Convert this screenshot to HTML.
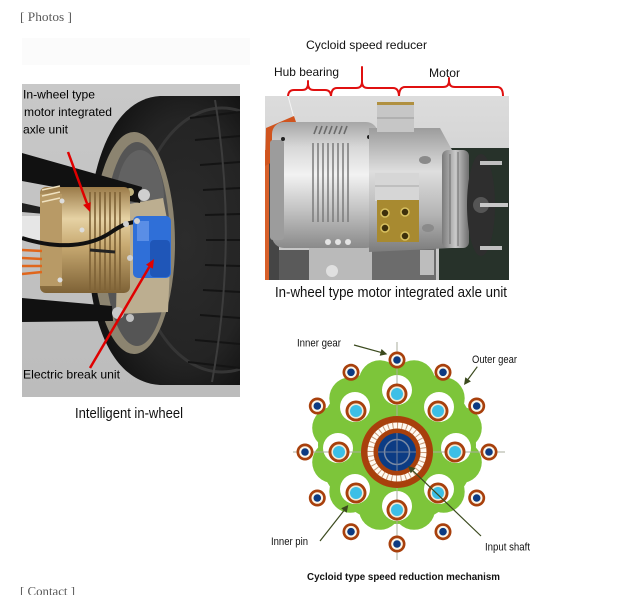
<!DOCTYPE html>
<html>
<head>
<meta charset="utf-8">
<style>
  html, body { margin:0; padding:0; background:#ffffff; }
  body { width:640px; height:595px; overflow:hidden; position:relative; }
  svg { position:absolute; left:0; top:0; }
  .sans { font-family:"Liberation Sans", Arial, sans-serif; }
  .serif { font-family:"Liberation Serif", "Times New Roman", serif; }
</style>
</head>
<body>
<svg width="640" height="595" viewBox="0 0 640 595" xmlns="http://www.w3.org/2000/svg">
  <defs>
    <clipPath id="cl"><rect x="22" y="84" width="218" height="313"/></clipPath>
    <clipPath id="cr"><rect x="265" y="96" width="244" height="184"/></clipPath>
    <linearGradient id="gold" x1="0" y1="0" x2="0" y2="1">
      <stop offset="0" stop-color="#9a7a48"/>
      <stop offset="0.3" stop-color="#e6d2a4"/>
      <stop offset="0.55" stop-color="#c8aa72"/>
      <stop offset="1" stop-color="#7e6236"/>
    </linearGradient>
    <linearGradient id="silver" x1="0" y1="0" x2="0" y2="1">
      <stop offset="0" stop-color="#a6a6a6"/>
      <stop offset="0.2" stop-color="#d8d8d8"/>
      <stop offset="0.42" stop-color="#f2f2f2"/>
      <stop offset="0.7" stop-color="#c2c2c2"/>
      <stop offset="1" stop-color="#8a8a8a"/>
    </linearGradient>
    <linearGradient id="silver2" x1="0" y1="0" x2="0" y2="1">
      <stop offset="0" stop-color="#9c9c9c"/>
      <stop offset="0.35" stop-color="#dedede"/>
      <stop offset="0.7" stop-color="#b4b4b4"/>
      <stop offset="1" stop-color="#7c7c7c"/>
    </linearGradient>
    <linearGradient id="discg" x1="0" y1="0" x2="1" y2="0">
      <stop offset="0" stop-color="#7a7a7a"/>
      <stop offset="0.5" stop-color="#cacaca"/>
      <stop offset="1" stop-color="#6e6e6e"/>
    </linearGradient>
    <linearGradient id="bgR" x1="0" y1="0" x2="0" y2="1">
      <stop offset="0" stop-color="#dcdcdc"/>
      <stop offset="1" stop-color="#c4c4c4"/>
    </linearGradient>
    <linearGradient id="bgL" x1="0" y1="0" x2="0" y2="1">
      <stop offset="0" stop-color="#c8c8c8"/>
      <stop offset="1" stop-color="#bcbcbc"/>
    </linearGradient>
    <radialGradient id="tireg" cx="0.62" cy="0.5" r="0.6">
      <stop offset="0" stop-color="#2c2c2c"/>
      <stop offset="0.7" stop-color="#242424"/>
      <stop offset="1" stop-color="#141414"/>
    </radialGradient>
  </defs>

  <!-- header -->
  <text x="20" y="21" class="serif" font-size="13" fill="#5a5a5a" textLength="52" lengthAdjust="spacingAndGlyphs">[ Photos ]</text>
  <rect x="22" y="38" width="228" height="27" fill="#fbfbfb"/>

  <!-- ================= LEFT PHOTO ================= -->
  <g clip-path="url(#cl)">
    <rect x="22" y="84" width="218" height="313" fill="url(#bgL)"/>
    <!-- tire -->
    <path d="M245,96 L160,96 C110,99 88,170 88,244 C88,318 110,382 160,385 L245,385 Z" fill="url(#tireg)"/>
    <ellipse cx="222" cy="240" rx="86" ry="132" fill="none" stroke="#353535" stroke-width="3"/>
    <!-- tread grooves -->
    <g stroke="#141414" stroke-width="2" fill="none">
      <path d="M190,118 L240,112"/>
      <path d="M195,140 L240,136"/>
      <path d="M200,165 L240,162"/>
      <path d="M203,190 L240,188"/>
      <path d="M205,215 L240,214"/>
      <path d="M206,240 L240,240"/>
      <path d="M205,265 L240,266"/>
      <path d="M203,290 L240,292"/>
      <path d="M200,315 L240,318"/>
      <path d="M195,340 L240,344"/>
      <path d="M188,362 L240,368"/>
    </g>
    <path d="M215,100 Q238,240 212,382" stroke="#3c3c3c" stroke-width="2" fill="none"/>
    <!-- rim -->
    <ellipse cx="134" cy="243" rx="41" ry="111" fill="#8c8470"/>
    <ellipse cx="137" cy="244" rx="33" ry="102" fill="#555555"/>
    <ellipse cx="140" cy="200" rx="24" ry="50" fill="#626262"/>
    <!-- backplate -->
    <path d="M118,206 L163,198 L171,240 L168,312 L116,314 Z" fill="#bcae90"/>
    <!-- upper arm -->
    <path d="M22,153 L142,187 L140,203 L22,181 Z" fill="#111111"/>
    <circle cx="144" cy="195" r="6" fill="#cfcfcf"/>
    <circle cx="130" cy="192" r="4" fill="#bfb27e"/>
    <path d="M22,203 L45,208 L45,214 L22,212 Z" fill="#202020"/>
    <!-- gold motor -->
    <rect x="40" y="187" width="90" height="106" rx="6" fill="url(#gold)"/>
    <rect x="40" y="194" width="22" height="92" fill="#b89a66"/>
    <g stroke="#f0e2c0" stroke-width="1.5">
      <line x1="42" y1="190" x2="60" y2="186"/>
      <line x1="42" y1="196" x2="60" y2="192"/>
      <line x1="42" y1="202" x2="60" y2="198"/>
    </g>
    <g stroke="#7e6236" stroke-width="1.6">
      <line x1="90" y1="192" x2="90" y2="290"/>
      <line x1="95" y1="192" x2="95" y2="290"/>
      <line x1="100" y1="192" x2="100" y2="290"/>
      <line x1="105" y1="192" x2="105" y2="290"/>
      <line x1="110" y1="192" x2="110" y2="290"/>
      <line x1="115" y1="192" x2="115" y2="290"/>
      <line x1="120" y1="192" x2="120" y2="290"/>
    </g>
    <circle cx="62" cy="201" r="2.5" fill="#dddddd"/>
    <circle cx="60" cy="280" r="2.5" fill="#dddddd"/>
    <circle cx="82" cy="230" r="2.5" fill="#dddddd"/>
    <!-- white block + orange cables -->
    <rect x="22" y="216" width="18" height="24" fill="#e6e6e6"/>
    <g stroke="#e0661c" stroke-width="2.5">
      <line x1="22" y1="250" x2="42" y2="251"/>
      <line x1="22" y1="258" x2="42" y2="259"/>
      <line x1="22" y1="266" x2="42" y2="266"/>
      <line x1="22" y1="274" x2="42" y2="272"/>
    </g>
    <!-- cable -->
    <path d="M22,238 C60,250 90,246 110,233 C120,226 128,222 137,222" stroke="#111" stroke-width="4" fill="none"/>
    <path d="M90,250 L115,252" stroke="#222" stroke-width="3"/>
    <!-- blue brake -->
    <rect x="133" y="216" width="38" height="62" rx="5" fill="#2f6fd8"/>
    <rect x="150" y="240" width="20" height="37" rx="4" fill="#1f56b8"/>
    <rect x="137" y="221" width="12" height="20" fill="#5a8ee6"/>
    <circle cx="137" cy="221" r="3" fill="#d0d0d0"/>
    <circle cx="126" cy="224" r="3" fill="#cfcfcf"/>
    <circle cx="130" cy="258" r="3" fill="#cfcfcf"/>
    <!-- lower arm -->
    <path d="M22,298 L112,306 L113,321 L22,322 Z" fill="#111111"/>
    <circle cx="118" cy="313" r="6" fill="#c8c8c8"/>
    <circle cx="130" cy="318" r="4" fill="#bfbfbf"/>
    <!-- red arrows -->
    <line x1="68" y1="152" x2="87" y2="203.5" stroke="#e00000" stroke-width="2.5"/>
    <polygon points="90,212 83.1,204.9 90.7,202.1" fill="#e00000"/>
    <line x1="90" y1="368" x2="149.4" y2="266.8" stroke="#e00000" stroke-width="2.5"/>
    <polygon points="154,259 152.9,268.8 146,264.8" fill="#e00000"/>
    <!-- labels -->
    <g class="sans" font-size="12" fill="#000">
      <text x="23" y="98.5" textLength="72" lengthAdjust="spacingAndGlyphs">In-wheel type</text>
      <text x="24" y="116" textLength="88" lengthAdjust="spacingAndGlyphs">motor integrated</text>
      <text x="23" y="133.5" textLength="45" lengthAdjust="spacingAndGlyphs">axle unit</text>
      <text x="23" y="378.5" textLength="97" lengthAdjust="spacingAndGlyphs">Electric break unit</text>
    </g>
  </g>
  <text x="75" y="418" class="sans" font-size="15" fill="#111" textLength="108" lengthAdjust="spacingAndGlyphs">Intelligent in-wheel</text>

  <!-- ================= RIGHT PHOTO ================= -->
  <g class="sans" font-size="12" fill="#111">
    <text x="306" y="49" textLength="121" lengthAdjust="spacingAndGlyphs">Cycloid speed reducer</text>
    <text x="274" y="76" textLength="65" lengthAdjust="spacingAndGlyphs">Hub bearing</text>
    <text x="429" y="77" textLength="31" lengthAdjust="spacingAndGlyphs">Motor</text>
  </g>
  <!-- braces -->
  <g stroke="#e01010" stroke-width="2" fill="none" stroke-linejoin="round" stroke-linecap="round">
    <path d="M288,97 Q288,90 294,90 L302,90 Q308,90 308,84 L308,81 M308,84 Q308,90 314,90 L325,90 Q331,90 331,97"/>
    <path d="M331,97 Q331,88 337,88 L356,88 Q362,88 362,82 L362,67 M362,82 Q362,88 368,88 L393,88 Q399,88 399,97"/>
    <path d="M399,97 Q399,87 405,87 L443,87 Q449,87 449,81 L449,78 M449,81 Q449,87 455,87 L497,87 Q503,87 503,96"/>
  </g>

  <g clip-path="url(#cr)">
    <rect x="265" y="96" width="244" height="184" fill="url(#bgR)"/>
    <line x1="288" y1="96" x2="294" y2="118" stroke="#f4f4f4" stroke-width="1"/>
    <!-- dark board -->
    <rect x="439" y="148" width="70" height="132" fill="#27322a"/>
    <!-- left strips -->
    <rect x="265" y="150" width="14" height="130" fill="#454545"/>
    <rect x="265" y="150" width="4" height="130" fill="#d8602a"/>
    <path d="M266,128 L294,116 L298,128 L276,160 L265,166 Z" fill="#d0541e"/>
    <!-- bottom pieces -->
    <rect x="279" y="250" width="32" height="30" fill="#5a5a5a"/>
    <rect x="309" y="245" width="63" height="35" fill="#bababa"/>
    <circle cx="332" cy="271" r="6" fill="#e0e0e0"/>
    <rect x="372" y="243" width="64" height="37" fill="#6c6c6c"/>
    <rect x="420" y="250" width="14" height="25" fill="#bdbdbd"/>
    <!-- left cylinder -->
    <rect x="272" y="122" width="106" height="126" rx="12" fill="url(#silver)"/>
    <rect x="270" y="140" width="14" height="100" rx="3" fill="#9c9c9c"/>
    <g stroke="#7a7a7a" stroke-width="1.5">
      <line x1="313" y1="143" x2="313" y2="222"/>
      <line x1="318" y1="143" x2="318" y2="222"/>
      <line x1="323" y1="143" x2="323" y2="222"/>
      <line x1="328" y1="143" x2="328" y2="222"/>
      <line x1="333" y1="143" x2="333" y2="222"/>
      <line x1="338" y1="143" x2="338" y2="222"/>
      <line x1="343" y1="143" x2="343" y2="222"/>
      <line x1="348" y1="143" x2="348" y2="222"/>
    </g>
    <g stroke="#6a6a6a" stroke-width="1.6">
      <line x1="314" y1="134" x2="317" y2="126"/>
      <line x1="319" y1="134" x2="322" y2="126"/>
      <line x1="324" y1="134" x2="327" y2="126"/>
      <line x1="329" y1="134" x2="332" y2="126"/>
      <line x1="334" y1="134" x2="337" y2="126"/>
      <line x1="339" y1="134" x2="342" y2="126"/>
      <line x1="344" y1="134" x2="347" y2="126"/>
    </g>
    <circle cx="283" cy="139" r="2" fill="#222"/>
    <circle cx="369" cy="137" r="2" fill="#222"/>
    <g fill="#e4e4e4">
      <circle cx="328" cy="242" r="3"/><circle cx="338" cy="242" r="3"/><circle cx="348" cy="242" r="3"/>
    </g>
    <!-- middle body -->
    <path d="M369,128 L440,128 L452,150 L452,248 L369,252 Z" fill="url(#silver2)"/>
    <ellipse cx="425" cy="160" rx="6" ry="4" fill="#8a8a8a"/>
    <ellipse cx="428" cy="228" rx="6" ry="4" fill="#8a8a8a"/>
    <!-- top block -->
    <rect x="377" y="102" width="37" height="30" fill="#c6c6c6"/>
    <rect x="377" y="102" width="37" height="3" fill="#b09040"/>
    <line x1="377" y1="118" x2="414" y2="118" stroke="#9a9a9a"/>
    <!-- lower block -->
    <rect x="375" y="173" width="44" height="28" fill="#d6d6d6"/>
    <line x1="375" y1="186" x2="419" y2="186" stroke="#a8a8a8"/>
    <!-- brass -->
    <rect x="377" y="200" width="42" height="42" fill="#a88a30"/>
    <g fill="#3e300c" stroke="#d8c060" stroke-width="1.5">
      <circle cx="385" cy="213" r="4"/>
      <circle cx="405" cy="212" r="4"/>
      <circle cx="385" cy="228" r="4"/>
      <circle cx="405" cy="236" r="4"/>
    </g>
    <!-- right disc -->
    <rect x="442" y="150" width="27" height="98" rx="6" fill="url(#discg)"/>
    <g stroke="#6a6a6a" stroke-width="1">
      <line x1="450" y1="154" x2="450" y2="244"/>
      <line x1="458" y1="152" x2="458" y2="246"/>
    </g>
    <!-- hub star -->
    <ellipse cx="481" cy="205" rx="14" ry="51" fill="#2e2e2e"/>
    <circle cx="481" cy="205" r="8" fill="#555"/>
    <rect x="480" y="161" width="22" height="4" fill="#c0c0c0"/>
    <rect x="480" y="203" width="28" height="4" fill="#c8c8c8"/>
    <rect x="480" y="246" width="22" height="4" fill="#c0c0c0"/>
  </g>
  <text x="275" y="297" class="sans" font-size="14.5" fill="#111" textLength="232" lengthAdjust="spacingAndGlyphs">In-wheel type motor integrated axle unit</text>

  <!-- ================= CYCLOID ================= -->
  <g fill="#7dc53a">
    <circle cx="397" cy="445" r="79"/>
    <circle cx="414.1" cy="381.3" r="21"/>
    <circle cx="443.7" cy="398.3" r="21"/>
    <circle cx="460.8" cy="427.9" r="21"/>
    <circle cx="460.8" cy="462.1" r="21"/>
    <circle cx="443.7" cy="491.7" r="21"/>
    <circle cx="414.1" cy="508.8" r="21"/>
    <circle cx="379.9" cy="508.8" r="21"/>
    <circle cx="350.3" cy="491.7" r="21"/>
    <circle cx="333.2" cy="462.1" r="21"/>
    <circle cx="333.2" cy="427.9" r="21"/>
    <circle cx="350.3" cy="398.3" r="21"/>
    <circle cx="379.9" cy="381.3" r="21"/>
  </g>
  <g fill="#ffffff">
    <circle cx="397" cy="390" r="15"/>
    <circle cx="439" cy="407" r="15"/>
    <circle cx="456" cy="448" r="15"/>
    <circle cx="439" cy="489" r="15"/>
    <circle cx="397" cy="506" r="15"/>
    <circle cx="355" cy="489" r="15"/>
    <circle cx="338" cy="448" r="15"/>
    <circle cx="355" cy="407" r="15"/>
  </g>
  <g stroke="#a9ad9c" stroke-width="1">
    <line x1="293" y1="452" x2="505" y2="452"/>
    <line x1="397" y1="342" x2="397" y2="560"/>
  </g>
  <g>
    <g fill="#a8400c">
      <circle cx="397" cy="394" r="10.5"/><circle cx="438" cy="411" r="10.5"/>
      <circle cx="455" cy="452" r="10.5"/><circle cx="438" cy="493" r="10.5"/>
      <circle cx="397" cy="510" r="10.5"/><circle cx="356" cy="493" r="10.5"/>
      <circle cx="339" cy="452" r="10.5"/><circle cx="356" cy="411" r="10.5"/>
    </g>
    <g fill="#f2ead6">
      <circle cx="397" cy="394" r="7.6"/><circle cx="438" cy="411" r="7.6"/>
      <circle cx="455" cy="452" r="7.6"/><circle cx="438" cy="493" r="7.6"/>
      <circle cx="397" cy="510" r="7.6"/><circle cx="356" cy="493" r="7.6"/>
      <circle cx="339" cy="452" r="7.6"/><circle cx="356" cy="411" r="7.6"/>
    </g>
    <g fill="#3cbfe6">
      <circle cx="397" cy="394" r="6"/><circle cx="438" cy="411" r="6"/>
      <circle cx="455" cy="452" r="6"/><circle cx="438" cy="493" r="6"/>
      <circle cx="397" cy="510" r="6"/><circle cx="356" cy="493" r="6"/>
      <circle cx="339" cy="452" r="6"/><circle cx="356" cy="411" r="6"/>
    </g>
  </g>
  <g>
    <g fill="#a8400c">
      <circle cx="397" cy="360" r="8.5"/><circle cx="443" cy="372.3" r="8.5"/>
      <circle cx="476.7" cy="406" r="8.5"/><circle cx="489" cy="452" r="8.5"/>
      <circle cx="476.7" cy="498" r="8.5"/><circle cx="443" cy="531.7" r="8.5"/>
      <circle cx="397" cy="544" r="8.5"/><circle cx="351" cy="531.7" r="8.5"/>
      <circle cx="317.3" cy="498" r="8.5"/><circle cx="305" cy="452" r="8.5"/>
      <circle cx="317.3" cy="406" r="8.5"/><circle cx="351" cy="372.3" r="8.5"/>
    </g>
    <g fill="#fbf6ea">
      <circle cx="397" cy="360" r="5.8"/><circle cx="443" cy="372.3" r="5.8"/>
      <circle cx="476.7" cy="406" r="5.8"/><circle cx="489" cy="452" r="5.8"/>
      <circle cx="476.7" cy="498" r="5.8"/><circle cx="443" cy="531.7" r="5.8"/>
      <circle cx="397" cy="544" r="5.8"/><circle cx="351" cy="531.7" r="5.8"/>
      <circle cx="317.3" cy="498" r="5.8"/><circle cx="305" cy="452" r="5.8"/>
      <circle cx="317.3" cy="406" r="5.8"/><circle cx="351" cy="372.3" r="5.8"/>
    </g>
    <g fill="#0c3a82">
      <circle cx="397" cy="360" r="3.8"/><circle cx="443" cy="372.3" r="3.8"/>
      <circle cx="476.7" cy="406" r="3.8"/><circle cx="489" cy="452" r="3.8"/>
      <circle cx="476.7" cy="498" r="3.8"/><circle cx="443" cy="531.7" r="3.8"/>
      <circle cx="397" cy="544" r="3.8"/><circle cx="351" cy="531.7" r="3.8"/>
      <circle cx="317.3" cy="498" r="3.8"/><circle cx="305" cy="452" r="3.8"/>
      <circle cx="317.3" cy="406" r="3.8"/><circle cx="351" cy="372.3" r="3.8"/>
    </g>
  </g>
  <circle cx="397" cy="452" r="36" fill="#a8400c"/>
  <circle cx="397" cy="452" r="29.5" fill="#fffaf2"/>
  <circle cx="397" cy="452" r="26.5" fill="none" stroke="#c89a78" stroke-width="6" stroke-dasharray="1 3.62"/>
  <circle cx="397" cy="452" r="23.5" fill="#a8400c"/>
  <circle cx="397" cy="452" r="19" fill="#0c3c84"/>
  <circle cx="397" cy="452" r="12.5" fill="none" stroke="#7a8aa4" stroke-width="1.5"/>
  <g stroke="#6f7f9a" stroke-width="1">
    <line x1="378" y1="452" x2="416" y2="452"/>
    <line x1="397" y1="433" x2="397" y2="471"/>
  </g>

  <g stroke="#3b4a1e" stroke-width="1.2">
    <line x1="354" y1="345" x2="381" y2="352.4"/>
    <line x1="477.3" y1="366.7" x2="468" y2="379.4"/>
    <line x1="320" y1="541" x2="344" y2="510.5"/>
    <line x1="481" y1="536" x2="413" y2="470.8"/>
  </g>
  <g fill="#3b4a1e">
    <polygon points="387.3,354.3 379.7,355.8 381.5,349"/>
    <polygon points="464,385 465.3,377.2 470.9,381.4"/>
    <polygon points="348.3,505 346.7,512.7 341.2,508.3"/>
    <polygon points="408,466 415.5,468.3 410.7,473.3"/>
  </g>

  <g class="sans" font-size="11" fill="#111">
    <text x="297" y="346.5" textLength="44" lengthAdjust="spacingAndGlyphs">Inner gear</text>
    <text x="472" y="363" textLength="45" lengthAdjust="spacingAndGlyphs">Outer gear</text>
    <text x="271" y="545" textLength="37" lengthAdjust="spacingAndGlyphs">Inner pin</text>
    <text x="485" y="550.5" textLength="45" lengthAdjust="spacingAndGlyphs">Input shaft</text>
  </g>
  <text x="307" y="580" class="sans" font-size="10" font-weight="bold" fill="#111" textLength="193" lengthAdjust="spacingAndGlyphs">Cycloid type speed reduction mechanism</text>

  <text x="20" y="595.5" class="serif" font-size="13" fill="#5a5a5a" textLength="55" lengthAdjust="spacingAndGlyphs">[ Contact ]</text>
</svg>
</body>
</html>
